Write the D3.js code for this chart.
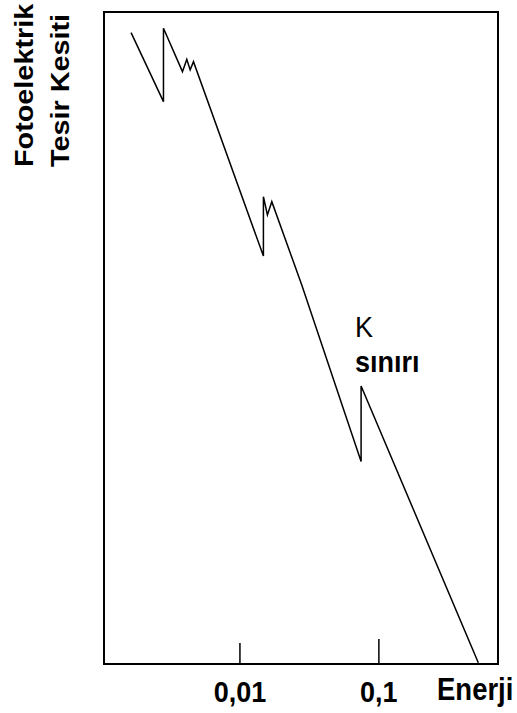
<!DOCTYPE html>
<html>
<head>
<meta charset="utf-8">
<script src="https://cdn.jsdelivr.net/npm/d3@7/dist/d3.min.js"></script>
<style>
  html, body { margin: 0; padding: 0; background: #fff; }
  svg { display: block; }
  text { font-family: "Liberation Sans", Arial, Helvetica, sans-serif; fill: #000; }
</style>
</head>
<body>
<svg id="chart" width="517" height="713"></svg>
<script>
// Photoelectric cross-section vs photon energy (log-log), with M, L and K absorption edges
const energy = [0.00166, 0.00284, 0.00284, 0.00389, 0.00418, 0.00442, 0.00467,
                0.01488, 0.01488, 0.0159, 0.0171, 0.0281, 0.0751, 0.0751, 0.524];
const crossSection = [6.0e5, 1.09e5, 6.68e5, 2.29e5, 3.10e5, 2.39e5, 2.93e5,
                      2399, 10400, 6620, 9200, 1172, 14.9, 96.6, 0.103];
const tickValues = [0.01, 0.1];
const tickLabels = ["0,01", "0,1"];
const yTitleLines = ["Fotoelektrik", "Tesir Kesiti"];
const xTitle = "Enerji";
const edgeLabel = ["K", "sınırı"];

const width = 517, height = 713;
const margin = { top: 12, right: 19, bottom: 49, left: 104 };

const svg = d3.select("#chart");

const x = d3.scaleLog()
  .domain([0.00106, 0.726])
  .range([margin.left, width - margin.right]);

const y = d3.scaleLog()
  .domain([0.1, 1e6])
  .range([height - margin.bottom, margin.top]);

// plot frame
svg.append("rect")
  .attr("x", margin.left)
  .attr("y", margin.top)
  .attr("width", width - margin.left - margin.right)
  .attr("height", height - margin.top - margin.bottom)
  .attr("fill", "none")
  .attr("stroke", "#000")
  .attr("stroke-width", 2);

// x axis: inward ticks at the two decades
const xAxis = d3.axisBottom(x)
  .tickValues(tickValues)
  .tickFormat((d, i) => tickLabels[i])
  .tickSizeInner(-22)
  .tickSizeOuter(0);

const gx = svg.append("g")
  .attr("transform", `translate(0,${height - margin.bottom})`)
  .call(xAxis);
gx.select(".domain").remove();
gx.selectAll(".tick line")
  .attr("stroke", "#000")
  .attr("stroke-width", 1.5)
  .attr("y2", d => d === 0.1 ? -25 : -21);
gx.selectAll(".tick text")
  .attr("y", null)
  .attr("dy", null)
  .attr("transform", "translate(0,37.5) scale(1,1.12)")
  .attr("font-size", 27)
  .attr("font-weight", "bold")
  .attr("font-family", "'Liberation Sans', Arial, sans-serif")
  .attr("fill", "#000");

// x title
svg.append("text")
  .attr("transform", `translate(437,${height - margin.bottom + 36}) scale(1,1.12)`)
  .attr("font-size", 27.5)
  .attr("font-weight", "bold")
  .text(xTitle);

// y title (two rotated lines)
svg.selectAll(".ytitle")
  .data(yTitleLines)
  .join("text")
  .attr("class", "ytitle")
  .attr("transform", (d, i) => `translate(${33 + i * 36},167) rotate(-90) scale(1.13,1)`)
  .attr("font-size", 25.5)
  .attr("font-weight", "bold")
  .text(d => d);

// cross-section curve
const line = d3.line()
  .x((d, i) => x(energy[i]))
  .y((d, i) => y(crossSection[i]));

svg.append("path")
  .datum(energy)
  .attr("d", line)
  .attr("fill", "none")
  .attr("stroke", "#000")
  .attr("stroke-width", 1.5)
  .attr("stroke-linejoin", "miter");

// K-edge annotation
svg.append("text")
  .attr("transform", "translate(355,337) scale(1,1.12)")
  .attr("font-size", 27)
  .text(edgeLabel[0]);
svg.append("text")
  .attr("transform", "translate(355,372) scale(1,1.12)")
  .attr("font-size", 27)
  .attr("font-weight", "bold")
  .text(edgeLabel[1]);
</script>
</body>
</html>
